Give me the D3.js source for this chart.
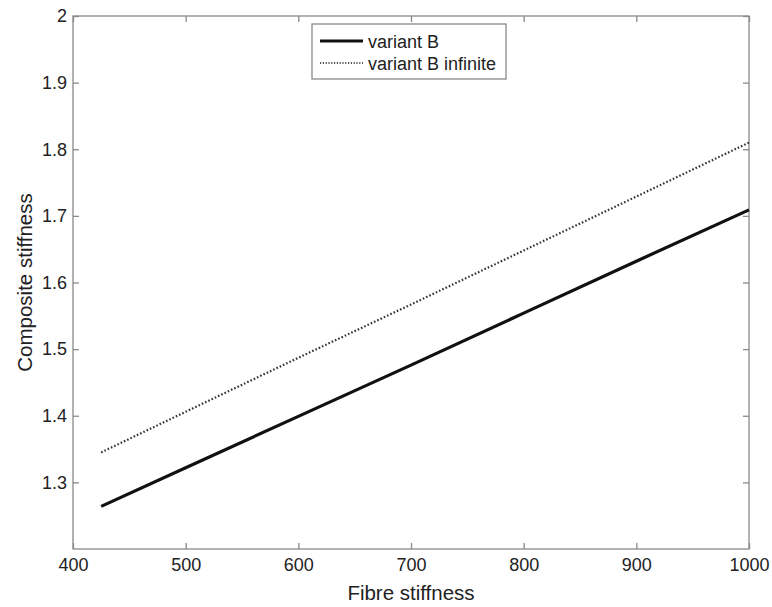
<!DOCTYPE html>
<html>
<head>
<meta charset="utf-8">
<script src="https://cdn.jsdelivr.net/npm/d3@7"></script>
<style>
  html, body { margin: 0; padding: 0; background: #fff; }
  svg { display: block; font-family: "Liberation Sans", Arial, sans-serif; }
</style>
</head>
<body>
<svg id="chart" width="772" height="607"></svg>
<script>
const fibreStiffness = [425, 500, 600, 700, 800, 900, 1000];
const variantB = [1.264, 1.322, 1.399, 1.476, 1.554, 1.632, 1.709];
const variantBInfinite = [1.345, 1.406, 1.487, 1.567, 1.648, 1.729, 1.81];
const xTicks = [400, 500, 600, 700, 800, 900, 1000];
const yTicks = [1.3, 1.4, 1.5, 1.6, 1.7, 1.8, 1.9, 2];
const seriesNames = ["variant B", "variant B infinite"];

(function () {
const svg = d3.select("#chart");
const pLeft = 73, pRight = 749, pTop = 16, pBottom = 549;
const x = d3.scaleLinear().domain([400, 1000]).range([pLeft, pRight]);
const y = d3.scaleLinear().domain([1.2, 2]).range([pBottom, pTop]);
const axisColor = "#8a8a8a";
const textColor = "#222";

svg.append("rect").attr("x", pLeft).attr("y", pTop)
  .attr("width", pRight - pLeft).attr("height", pBottom - pTop)
  .attr("fill", "none").attr("stroke", axisColor).attr("stroke-width", 1.3);

const tl = 6;
const gx = svg.append("g").attr("transform", `translate(0,${pBottom})`)
  .call(d3.axisBottom(x).tickValues(xTicks).tickSizeInner(-tl).tickSizeOuter(0).tickPadding(9).tickFormat(d3.format("d")));
const gxTop = svg.append("g").attr("transform", `translate(0,${pTop})`)
  .call(d3.axisTop(x).tickValues(xTicks).tickSizeInner(-tl).tickSizeOuter(0).tickFormat(""));
const gy = svg.append("g").attr("transform", `translate(${pLeft},0)`)
  .call(d3.axisLeft(y).tickValues(yTicks).tickSizeInner(-tl).tickSizeOuter(0).tickPadding(6).tickFormat(d => String(+d.toFixed(1))));
const gyR = svg.append("g").attr("transform", `translate(${pRight},0)`)
  .call(d3.axisRight(y).tickValues(yTicks).tickSizeInner(-tl).tickSizeOuter(0).tickFormat(""));

[gx, gxTop, gy, gyR].forEach(g => {
  g.select(".domain").remove();
  g.selectAll(".tick line").attr("stroke", axisColor).attr("stroke-width", 1.3);
  g.selectAll("text").attr("fill", textColor).attr("font-size", 18)
    .attr("font-family", "'Liberation Sans', Arial, sans-serif");
});

svg.append("text").attr("x", (pLeft + pRight) / 2).attr("y", 600)
  .attr("text-anchor", "middle").attr("font-size", 20.5).attr("fill", textColor)
  .text("Fibre stiffness");
svg.append("text").attr("transform", `translate(32,${(pTop + pBottom) / 2}) rotate(-90)`)
  .attr("text-anchor", "middle").attr("font-size", 20.5).attr("fill", textColor)
  .text("Composite stiffness");

const line = d3.line().x(d => x(d[0])).y(d => y(d[1]));
const solidData = fibreStiffness.map((v, i) => [v, variantB[i]]);
const dotData = fibreStiffness.map((v, i) => [v, variantBInfinite[i]]);

svg.append("path").datum(dotData).attr("d", line)
  .attr("fill", "none").attr("stroke", "#333").attr("stroke-width", 2.2)
  .attr("stroke-dasharray", "1.6,2");
svg.append("path").datum(solidData).attr("d", line)
  .attr("fill", "none").attr("stroke", "#111").attr("stroke-width", 3.2);

const lg = svg.append("g");
lg.append("rect").attr("x", 312).attr("y", 24).attr("width", 194).attr("height", 55)
  .attr("fill", "#fff").attr("stroke", axisColor).attr("stroke-width", 1.3);
const rows = [
  { name: seriesNames[0], y: 41, width: 3.2, dash: null, color: "#111" },
  { name: seriesNames[1], y: 63, width: 2, dash: "1.2,1.6", color: "#555" }
];
rows.forEach(r => {
  lg.append("line").attr("x1", 320).attr("x2", 363).attr("y1", r.y).attr("y2", r.y)
    .attr("stroke", r.color).attr("stroke-width", r.width)
    .attr("stroke-dasharray", r.dash);
  lg.append("text").attr("x", 368).attr("y", r.y + 6.5)
    .attr("font-size", 18).attr("fill", textColor).text(r.name);
});
})();
</script>
</body>
</html>
